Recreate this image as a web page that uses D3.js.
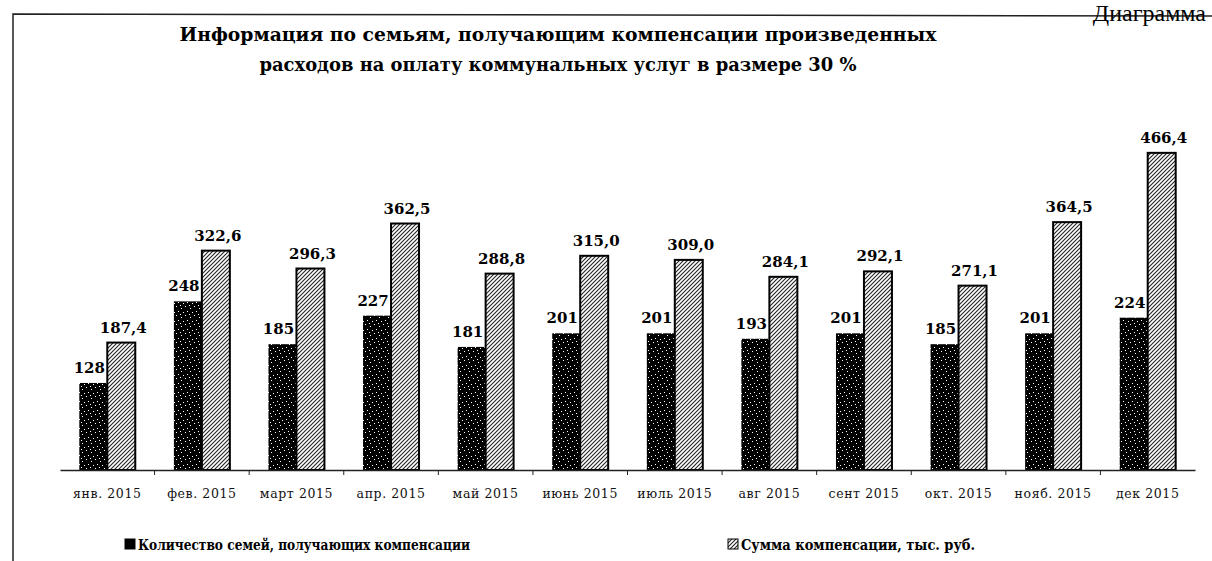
<!DOCTYPE html>
<html>
<head>
<meta charset="utf-8">
<script src="https://cdn.jsdelivr.net/npm/d3@7"></script>
<style>
  body { margin: 0; background: #fff; }
  svg { display: block; }
</style>
</head>
<body>
<div id="chart"></div>
<script>
const months = ["янв. 2015", "фев. 2015", "март 2015", "апр. 2015", "май 2015", "июнь 2015",
  "июль 2015", "авг  2015", "сент 2015", "окт. 2015", "нояб. 2015", "дек 2015"];
const families = [128, 248, 185, 227, 181, 201, 201, 193, 201, 185, 201, 224];
const amounts = [187.4, 322.6, 296.3, 362.5, 288.8, 315.0, 309.0, 284.1, 292.1, 271.1, 364.5, 466.4];
const seriesNames = ["Количество семей, получающих компенсации", "Сумма компенсации, тыс. руб."];
const titleLines = ["Информация по семьям, получающим компенсации произведенных",
  "расходов на оплату коммунальных услуг в размере 30 %"];

const W = 1212, H = 561;
const baseY = 470;
const serif = "'DejaVu Serif', 'Liberation Serif', serif";

const svg = d3.select("#chart").append("svg")
  .attr("width", W)
  .attr("height", H);

// fill patterns: dark speckled and diagonal hatch
const defs = svg.append("defs");
const dots = defs.append("pattern")
  .attr("id", "dots")
  .attr("patternUnits", "userSpaceOnUse")
  .attr("width", 9).attr("height", 9);
dots.append("rect").attr("width", 9).attr("height", 9).attr("fill", "#000");
[[1, 2], [5, 0], [7, 5], [3, 6], [0, 8]].forEach(function (p) {
  dots.append("rect").attr("x", p[0]).attr("y", p[1])
    .attr("width", 1).attr("height", 1).attr("fill", "#fff");
});
const hatch = defs.append("pattern")
  .attr("id", "hatch")
  .attr("patternUnits", "userSpaceOnUse")
  .attr("width", 4).attr("height", 4);
hatch.append("rect").attr("width", 4).attr("height", 4).attr("fill", "#fff");
hatch.append("path")
  .attr("d", "M-1,1 L1,-1 M0,4 L4,0 M3,5 L5,3")
  .attr("stroke", "#222").attr("stroke-width", 1.1);

// frame of the scanned page
svg.append("path")
  .attr("d", "M13,561 L13,14 L1212,16")
  .attr("fill", "none")
  .attr("stroke", "#222")
  .attr("stroke-width", 1.5);

svg.append("text")
  .attr("x", 1206).attr("y", 21)
  .attr("text-anchor", "end")
  .style("font-family", "'Liberation Serif', 'DejaVu Serif', serif")
  .style("font-size", "24px")
  .text("Диаграмма");

// title
const titleW = [757, 597];
svg.selectAll("text.title")
  .data(titleLines)
  .enter()
  .append("text")
  .attr("class", "title")
  .attr("x", function (d, i) { return 558 - titleW[i] / 2; })
  .attr("y", function (d, i) { return 41 + i * 30; })
  .attr("textLength", function (d, i) { return titleW[i]; })
  .attr("lengthAdjust", "spacingAndGlyphs")
  .style("font-family", serif)
  .style("font-weight", "bold")
  .style("font-size", "19px")
  .text(function (d) { return d; });

// scales
const x = d3.scaleBand().domain(months).range([60, 1195]).padding(0);
const xs = d3.scaleBand().domain([0, 1]).range([0, x.bandwidth()]).paddingInner(0).paddingOuter(0.69);
const y = d3.scaleLinear().domain([0, 500]).range([baseY, 130]);

const fmt = function (v) { return d3.format(".1f")(v).replace(".", ","); };
const labelFont = function (sel) {
  sel.style("font-family", serif)
    .style("font-weight", "bold")
    .style("font-size", "15px")
    .attr("text-anchor", "middle");
};

// dark bars + their labels (hatched bars drawn after overlap them)
svg.append("g").selectAll("rect")
  .data(families)
  .enter()
  .append("rect")
  .attr("x", function (d, i) { return x(months[i]) + xs(0); })
  .attr("y", function (d) { return y(d); })
  .attr("width", xs.bandwidth())
  .attr("height", function (d) { return baseY - y(d); })
  .attr("fill", "url(#dots)");

svg.append("g").selectAll("text")
  .data(families)
  .enter()
  .append("text")
  .call(labelFont)
  .attr("x", function (d, i) { return x(months[i]) + xs(0) + xs.bandwidth() / 2 - 4; })
  .attr("y", function (d) { return y(d) - 10; })
  .text(function (d) { return d; });

svg.append("g").selectAll("rect")
  .data(amounts)
  .enter()
  .append("rect")
  .attr("x", function (d, i) { return x(months[i]) + xs(1); })
  .attr("y", function (d) { return y(d); })
  .attr("width", xs.bandwidth())
  .attr("height", function (d) { return baseY - y(d); })
  .attr("fill", "url(#hatch)")
  .attr("stroke", "#000")
  .attr("stroke-width", 2);

svg.append("g").selectAll("text")
  .data(amounts)
  .enter()
  .append("text")
  .call(labelFont)
  .attr("x", function (d, i) { return x(months[i]) + xs(1) + xs.bandwidth() / 2 + 2; })
  .attr("y", function (d) { return y(d) - 10; })
  .text(function (d) { return fmt(d); });

// x axis
const gX = svg.append("g").attr("transform", "translate(0," + baseY + ")");
gX.call(d3.axisBottom(x).tickSize(0).tickPadding(19));
gX.select(".domain").attr("stroke", "#222").attr("stroke-width", 1.5);
gX.selectAll(".tick text")
  .style("font-family", serif)
  .style("font-size", "12.5px")
  .style("letter-spacing", "0.6px")
  .attr("fill", "#111");
// ticks on category boundaries
gX.selectAll("line.edge")
  .data(months.slice(1))
  .enter()
  .append("line")
  .attr("class", "edge")
  .attr("x1", function (d) { return x(d); })
  .attr("x2", function (d) { return x(d); })
  .attr("y1", 0).attr("y2", 5)
  .attr("stroke", "#222");

// legend
const legendX = [125, 728];
const legendW = [332, 234];
const lg = svg.append("g").selectAll("g")
  .data(seriesNames)
  .enter()
  .append("g")
  .attr("transform", function (d, i) { return "translate(" + legendX[i] + ",539)"; });
lg.append("rect")
  .attr("width", 10).attr("height", 10)
  .attr("fill", function (d, i) { return i === 0 ? "#000" : "url(#hatch)"; })
  .attr("stroke", "#000")
  .attr("stroke-width", 1);
lg.append("text")
  .attr("x", 13).attr("y", 11)
  .attr("textLength", function (d, i) { return legendW[i]; })
  .attr("lengthAdjust", "spacingAndGlyphs")
  .style("font-family", serif)
  .style("font-weight", "bold")
  .style("font-size", "15px")
  .text(function (d) { return d; });
</script>
</body>
</html>
